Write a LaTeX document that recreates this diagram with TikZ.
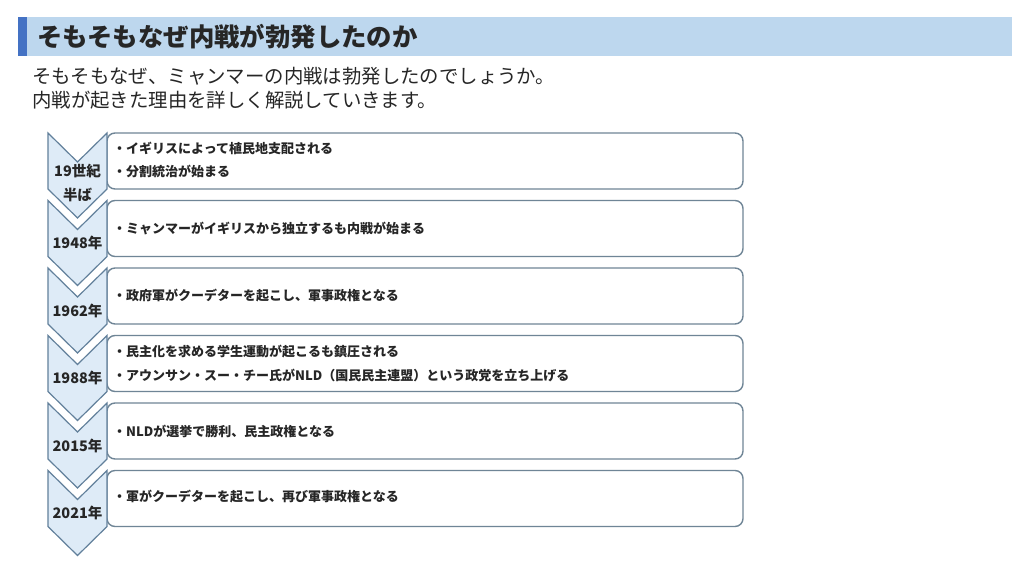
\documentclass[tikz,border=0pt]{standalone}
\usepackage{fontspec}
\setmainfont{Noto Sans CJK JP}
\definecolor{hdr}{HTML}{BDD7EE}
\definecolor{accent}{HTML}{4472C4}
\definecolor{txt}{HTML}{262626}
\definecolor{chevfill}{HTML}{DEEBF7}
\definecolor{chevline}{HTML}{62809B}
\definecolor{boxline}{HTML}{6F8596}
\begin{document}
\begin{tikzpicture}[x=1pt,y=-1pt,
  chev/.style={fill=chevfill,draw=chevline,line width=1.2pt,line join=miter},
  evbox/.style={draw=boxline,fill=white,line width=1.4pt,rounded corners=8pt},
  evtext/.style={anchor=west,inner sep=0pt,font=\fontsize{13}{15}\selectfont\bfseries,text=txt},
  yrtext/.style={inner sep=0pt,font=\fontsize{14.5}{24}\selectfont\bfseries,text=txt,align=center}]
\useasboundingbox (0,0) rectangle (1024,576);
\fill[white] (0,0) rectangle (1024,576);
% header
\fill[hdr] (18,17) rectangle (1012,56);
\fill[accent] (18,17) rectangle (27,56);
\node[anchor=west,inner sep=0pt,font=\fontsize{25.4}{28}\selectfont\bfseries,text=txt] (title) at (37,37) {そもそもなぜ内戦が勃発したのか};
\node[anchor=west,inner sep=0pt,font=\fontsize{19.4}{22}\selectfont,text=txt] (sub1) at (32,76) {そもそもなぜ、ミャンマーの内戦は勃発したのでしょうか。};
\node[anchor=west,inner sep=0pt,font=\fontsize{19.4}{22}\selectfont,text=txt] (sub2) at (32,100) {内戦が起きた理由を詳しく解説していきます。};
% rows
\foreach \i/\t in {1/133,2/200.5,3/268,4/335.5,5/403,6/470.5}{
  \draw[evbox] (107,\t) rectangle (743,\t+56);
  \draw[chev] (48,\t) -- (77.5,\t+29) -- (107,\t) -- (107,\t+56) -- (77.5,\t+85) -- (48,\t+56) -- cycle;
}
% labels
\node[yrtext] (y1) at (77.5,183) {19世紀\\半ば};
\node[yrtext] (y2) at (77.5,243) {1948年};
\node[yrtext] (y3) at (77.5,310.5) {1962年};
\node[yrtext] (y4) at (77.5,378) {1988年};
\node[yrtext] (y5) at (77.5,445.5) {2015年};
\node[yrtext] (y6) at (77.5,513) {2021年};
% texts
\node[evtext] (e1a) at (113,148) {・イギリスによって植民地支配される};
\node[evtext] (e1b) at (113,171) {・分割統治が始まる};
\node[evtext] (e2) at (113,228.5) {・ミャンマーがイギリスから独立するも内戦が始まる};
\node[evtext] (e3) at (113,296) {・政府軍がクーデターを起こし、軍事政権となる};
\node[evtext] (e4a) at (113,352) {・民主化を求める学生運動が起こるも鎮圧される};
\node[evtext] (e4b) at (113,375) {・アウンサン・スー・チー氏がNLD（国民民主連盟）という政党を立ち上げる};
\node[evtext] (e5) at (113,431) {・NLDが選挙で勝利、民主政権となる};
\node[evtext] (e6) at (113,497) {・軍がクーデターを起こし、再び軍事政権となる};
\end{tikzpicture}
\end{document}
